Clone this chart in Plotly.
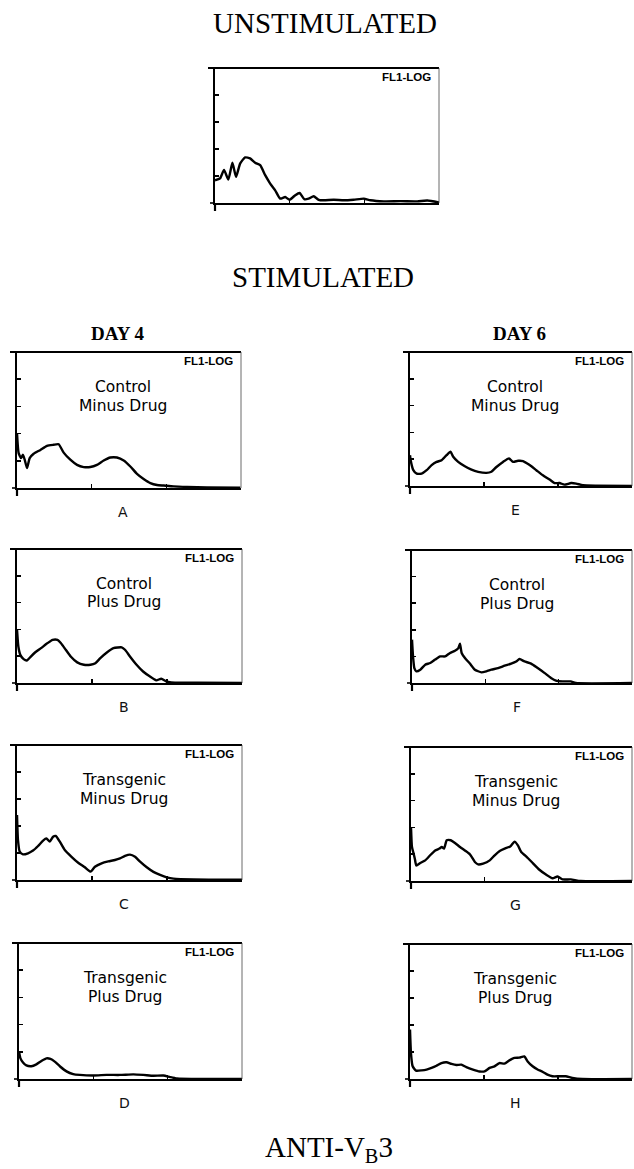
import plotly.graph_objects as go

W, H = 634, 1169

# ---------------- data (x: log decades 0-3, y: relative cell count 0-5) ----------------
unstim_x = [0, 0.067, 0.121, 0.179, 0.233, 0.282, 0.336, 0.403, 0.470, 0.537, 0.605, 0.672, 0.739, 0.806,
            0.873, 0.940, 0.999, 1.075, 1.133, 1.196, 1.254, 1.321, 1.388, 1.455, 1.590, 1.724, 1.858,
            1.993, 2.082, 2.261, 2.485, 2.709, 2.843, 3.0]
unstim_y = [0.84, 0.91, 1.22, 0.87, 1.49, 0.97, 1.46, 1.69, 1.65, 1.49, 1.40, 1.03, 0.72, 0.47,
            0.16, 0.22, 0.12, 0.29, 0.37, 0.14, 0.16, 0.25, 0.12, 0.10, 0.12, 0.10, 0.12,
            0.16, 0.10, 0.06, 0.07, 0.06, 0.09, 0.02]

a_x = [0, 0.022, 0.054, 0.080, 0.103, 0.134, 0.170, 0.223, 0.313, 0.402, 0.491, 0.558, 0.625, 0.714,
       0.804, 0.893, 0.982, 1.071, 1.161, 1.250, 1.339, 1.429, 1.518, 1.607, 1.696, 1.786, 1.875,
       1.964, 2.098, 2.277, 2.545, 2.991]
a_y = [2.01, 1.28, 1.10, 1.22, 1.04, 0.73, 1.10, 1.26, 1.40, 1.55, 1.59, 1.61, 1.30, 1.04,
       0.85, 0.77, 0.77, 0.85, 1.01, 1.12, 1.12, 1.01, 0.79, 0.52, 0.33, 0.18, 0.11,
       0.09, 0.06, 0.04, 0.02, 0.01]

b_x = [0, 0.018, 0.044, 0.088, 0.132, 0.176, 0.233, 0.320, 0.408, 0.474, 0.540, 0.584, 0.650, 0.716,
       0.803, 0.891, 0.979, 1.045, 1.111, 1.198, 1.286, 1.396, 1.440, 1.506, 1.594, 1.681, 1.769,
       1.857, 1.923, 1.989, 2.055, 2.406, 3.0]
b_y = [1.99, 1.36, 1.05, 0.89, 0.84, 0.96, 1.12, 1.30, 1.49, 1.61, 1.61, 1.49, 1.24, 0.99,
       0.77, 0.68, 0.68, 0.74, 0.93, 1.14, 1.30, 1.33, 1.24, 0.99, 0.68, 0.43, 0.25,
       0.10, 0.16, 0.06, 0.02, 0.01, 0.0]

c_x = [0, 0.013, 0.036, 0.080, 0.147, 0.214, 0.281, 0.348, 0.392, 0.437, 0.481, 0.517, 0.571, 0.637,
       0.727, 0.816, 0.905, 0.981, 1.039, 1.128, 1.217, 1.306, 1.373, 1.440, 1.507, 1.574, 1.641,
       1.730, 1.819, 1.908, 1.997, 2.086, 2.354, 3.0]
c_y = [2.41, 1.48, 1.05, 0.95, 0.99, 1.09, 1.26, 1.46, 1.54, 1.42, 1.60, 1.63, 1.42, 1.11,
       0.86, 0.64, 0.47, 0.31, 0.49, 0.62, 0.69, 0.74, 0.80, 0.89, 0.94, 0.86, 0.68,
       0.47, 0.30, 0.19, 0.10, 0.05, 0.02, 0.01]

d_x = [0, 0.018, 0.054, 0.099, 0.166, 0.234, 0.301, 0.369, 0.423, 0.481, 0.549, 0.639, 0.729, 0.819,
       0.999, 1.178, 1.358, 1.538, 1.673, 1.808, 1.943, 2.033, 2.123, 2.438, 3.0]
d_y = [1.02, 0.77, 0.61, 0.50, 0.47, 0.54, 0.66, 0.76, 0.74, 0.64, 0.47, 0.28, 0.18, 0.15,
       0.13, 0.15, 0.15, 0.17, 0.15, 0.12, 0.13, 0.07, 0.02, 0.0, 0.0]

e_x = [0, 0.009, 0.045, 0.090, 0.157, 0.225, 0.292, 0.359, 0.427, 0.494, 0.548, 0.584, 0.651, 0.741,
       0.831, 0.921, 1.033, 1.100, 1.168, 1.257, 1.338, 1.392, 1.460, 1.527, 1.617, 1.707, 1.796,
       1.886, 1.954, 2.021, 2.088, 2.178, 2.246, 2.335, 2.515, 3.0]
e_y = [1.15, 0.96, 0.59, 0.46, 0.46, 0.59, 0.78, 0.90, 0.96, 1.15, 1.28, 1.09, 0.90, 0.74,
       0.61, 0.53, 0.49, 0.53, 0.71, 0.90, 1.03, 0.90, 0.94, 0.93, 0.78, 0.59, 0.40,
       0.24, 0.11, 0.11, 0.05, 0.11, 0.09, 0.03, 0.01, 0.0]

f_x = [0, 0.014, 0.032, 0.059, 0.113, 0.180, 0.248, 0.316, 0.383, 0.451, 0.519, 0.586, 0.632, 0.654,
       0.677, 0.722, 0.789, 0.857, 0.947, 1.015, 1.083, 1.173, 1.263, 1.353, 1.421, 1.466, 1.534,
       1.624, 1.714, 1.805, 1.895, 1.962, 2.053, 2.165, 2.233, 3.0]
f_y = [1.63, 1.00, 0.56, 0.44, 0.50, 0.69, 0.75, 0.88, 1.00, 1.00, 1.13, 1.21, 1.31, 1.48,
       1.13, 0.94, 0.73, 0.50, 0.40, 0.44, 0.50, 0.56, 0.65, 0.73, 0.81, 0.90, 0.81,
       0.73, 0.56, 0.38, 0.19, 0.09, 0.06, 0.06, 0.0, 0.0]

g_x = [0, 0.013, 0.036, 0.054, 0.072, 0.126, 0.193, 0.260, 0.328, 0.386, 0.418, 0.449, 0.485, 0.539,
       0.597, 0.665, 0.732, 0.799, 0.867, 0.912, 0.979, 1.069, 1.136, 1.204, 1.271, 1.347, 1.406,
       1.451, 1.496, 1.563, 1.653, 1.743, 1.832, 1.922, 1.990, 2.057, 2.169, 2.304, 3.0]
g_y = [2.01, 1.27, 1.02, 0.80, 0.58, 0.67, 0.77, 0.96, 1.14, 1.21, 1.27, 1.21, 1.52, 1.52,
       1.42, 1.27, 1.14, 1.00, 0.71, 0.62, 0.65, 0.77, 0.96, 1.12, 1.21, 1.29, 1.47,
       1.33, 1.08, 0.92, 0.67, 0.42, 0.24, 0.10, 0.17, 0.06, 0.06, 0.0, 0.0]

h_x = [0, 0.013, 0.036, 0.081, 0.157, 0.224, 0.291, 0.358, 0.425, 0.493, 0.560, 0.627, 0.694, 0.761,
       0.851, 0.940, 1.007, 1.075, 1.142, 1.209, 1.276, 1.343, 1.410, 1.478, 1.545, 1.590, 1.657,
       1.724, 1.791, 1.858, 1.925, 2.015, 2.104, 2.194, 2.328, 3.0]
h_y = [1.83, 0.96, 0.47, 0.31, 0.32, 0.35, 0.41, 0.49, 0.59, 0.62, 0.56, 0.52, 0.53, 0.44,
       0.35, 0.28, 0.28, 0.41, 0.47, 0.59, 0.57, 0.69, 0.78, 0.79, 0.84, 0.65, 0.47,
       0.35, 0.27, 0.16, 0.10, 0.10, 0.10, 0.04, 0.0, 0.0]

x_ticks = [1, 2]
y_ticks = [1, 2, 3, 4]
corner_label = "FL1-LOG"
panel_titles = {
    "A": ["Control", "Minus Drug"], "B": ["Control", "Plus Drug"],
    "C": ["Transgenic", "Minus Drug"], "D": ["Transgenic", "Plus Drug"],
    "E": ["Control", "Minus Drug"], "F": ["Control", "Plus Drug"],
    "G": ["Transgenic", "Minus Drug"], "H": ["Transgenic", "Plus Drug"],
}

# ---------------- layout (pixel boxes: left, right, top, bottom) ----------------
panels = [
    ("U", unstim_x, unstim_y, (215, 439, 68, 203)),
    ("A", a_x, a_y, (17, 241, 352, 488)),
    ("B", b_x, b_y, (17, 242, 549, 683)),
    ("C", c_x, c_y, (17, 242, 745, 880)),
    ("D", d_x, d_y, (19, 242, 943, 1079)),
    ("E", e_x, e_y, (410, 632, 352, 486)),
    ("F", f_x, f_y, (412, 632, 550, 683)),
    ("G", g_x, g_y, (411, 632, 747, 881)),
    ("H", h_x, h_y, (410, 632, 944, 1079)),
]

def px(x):
    return x / W

def py(y):
    return 1 - y / H

SERIF = "Liberation Serif, Times New Roman, serif"
SANS = "DejaVu Sans, sans-serif"

fig = go.Figure()
layout = dict(width=W, height=H, margin=dict(l=0, r=0, t=0, b=0), autosize=False,
              paper_bgcolor="white", plot_bgcolor="white", showlegend=False)
shapes = []
annotations = []

for i, (key, xs, ys, (l, r, t, b)) in enumerate(panels):
    n = "" if i == 0 else str(i + 1)
    xa, ya = "x" + n, "y" + n
    fig.add_trace(go.Scatter(x=xs, y=ys, mode="lines", xaxis=xa, yaxis=ya,
                             line=dict(color="black", width=2.4, shape="spline", smoothing=0.5),
                             hoverinfo="skip"))
    layout["xaxis" + n] = dict(domain=[px(l), px(r)], range=[0, 3], anchor=ya,
                               showline=True, linecolor="black", linewidth=1.6,
                               ticks="inside", tickvals=x_ticks, ticklen=4, tickwidth=1.5,
                               tickcolor="black", showticklabels=False, showgrid=False,
                               zeroline=False, fixedrange=True)
    layout["yaxis" + n] = dict(domain=[py(b), py(t)], range=[0, 5], anchor=xa,
                               showline=True, linecolor="black", linewidth=2.2,
                               ticks="inside", tickvals=y_ticks, ticklen=4, tickwidth=1.5,
                               tickcolor="black", showticklabels=False, showgrid=False,
                               zeroline=False, fixedrange=True)
    xd, yd = xa + " domain", ya + " domain"
    wpx, hpx = r - l, b - t
    # top border (thick), right border (thin)
    shapes.append(dict(type="line", xref=xd, yref=yd, x0=-7 / wpx, x1=1, y0=1, y1=1,
                       line=dict(color="black", width=2.2)))
    shapes.append(dict(type="line", xref=xd, yref=yd, x0=1, x1=1, y0=0, y1=1,
                       line=dict(color="#444", width=0.8)))
    # axis overshoot below baseline and left of axis
    shapes.append(dict(type="line", xref=xd, yref=yd, x0=0, x1=0, y0=-8 / hpx, y1=0,
                       line=dict(color="black", width=2.2)))
    shapes.append(dict(type="line", xref=xd, yref=yd, x0=-5 / wpx, x1=0, y0=0, y1=0,
                       line=dict(color="black", width=1.6)))
    # FL1-LOG
    annotations.append(dict(xref=xd, yref=yd, x=1 - 6 / wpx, y=1 - 1 / hpx, xanchor="right",
                            yanchor="top", text="<b>%s</b>" % corner_label, showarrow=False,
                            font=dict(family="Liberation Sans, Arial, sans-serif", size=11.5,
                                      color="black")))
    if key in panel_titles:
        lines = panel_titles[key]
        for j, txt in enumerate(lines):
            annotations.append(dict(xref=xd, yref=yd, x=0.475, y=1 - (35 + 18.5 * j) / hpx,
                                    xanchor="center", yanchor="middle", text=txt, showarrow=False,
                                    font=dict(family=SANS, size=15.5, color="black")))
        annotations.append(dict(xref=xd, yref=yd, x=0.475, y=-24 / hpx, xanchor="center",
                                yanchor="middle", text=key, showarrow=False,
                                font=dict(family=SANS, size=14, color="#111")))

# headings
heads = [
    ("UNSTIMULATED", 325, 23, 29, False),
    ("STIMULATED", 323, 277, 29, False),
    ("DAY 4", 117, 333, 19, True),
    ("DAY 6", 519, 333, 19, True),
    ("ANTI-V<sub>B</sub>3", 329, 1149, 29, False),
]
for txt, hx, hy, sz, bold in heads:
    annotations.append(dict(xref="paper", yref="paper", x=px(hx), y=py(hy), xanchor="center",
                            yanchor="middle", text=("<b>%s</b>" % txt) if bold else txt,
                            showarrow=False, font=dict(family=SERIF, size=sz, color="black")))

layout["shapes"] = shapes
layout["annotations"] = annotations
fig.update_layout(**layout)
fig.write_html("out.html", config={"displayModeBar": False, "staticPlot": True},
               post_script="document.body.style.margin='0';document.body.style.padding='0';"
                           "document.body.style.overflow='hidden';")
